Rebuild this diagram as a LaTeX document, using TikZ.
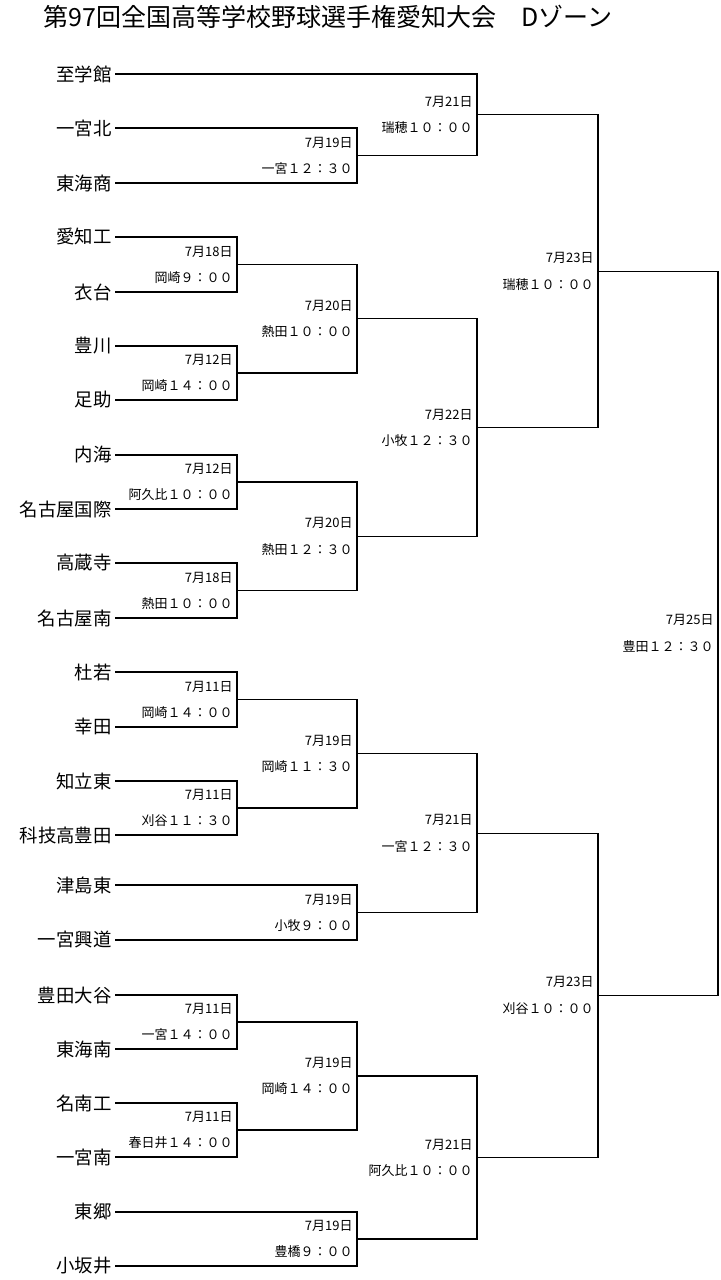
\documentclass[tikz,border=0pt]{standalone}
\usepackage{fontspec}
\setmainfont{Noto Sans CJK JP}
\usetikzlibrary{calc}
\tikzset{
  team/.style={anchor=east, inner sep=0pt, font=\fontsize{9.2}{9}\selectfont},
  info/.style={anchor=east, inner sep=0pt, font=\fontsize{6.5}{6}\selectfont},
  bracket/.style={line width=0.6pt}
}
% \match{name}{top}{bottom}{column x}{date}{time}
\newcommand{\match}[6]{%
  \draw[bracket] (#2) -- (#2 -| #4,0) -- (#3 -| #4,0) -- (#3);
  \coordinate (#1) at ($(#2 -| #4,0)!0.5!(#3 -| #4,0)$);
  \node[info] at ($(#1)+(-4,-13)$) {#5};
  \node[info] at ($(#1)+(-4,13)$) {#6};
}
\begin{document}
\begin{tikzpicture}[x=0.5pt,y=-0.5pt]
\useasboundingbox (0,0) rectangle (721,1280);
\node[font=\fontsize{12.5}{12}\selectfont] (title) at (328,17) {第97回全国高等学校野球選手権愛知大会　Dゾーン};

% teams
\foreach \n/\t/\y in {t1/至学館/74, t2/一宮北/128, t3/東海商/183, t4/愛知工/237,
  t5/衣台/292, t6/豊川/346, t7/足助/400, t8/内海/455, t9/名古屋国際/509,
  t10/高蔵寺/563, t11/名古屋南/618, t12/杜若/672, t13/幸田/727, t14/知立東/781,
  t15/科技高豊田/835, t16/津島東/885, t17/一宮興道/940, t18/豊田大谷/995,
  t19/東海南/1049, t20/名南工/1103, t21/一宮南/1157, t22/東郷/1212, t23/小坂井/1266}{
  \node[team] (\n) at (112,\y) {\t};
  \coordinate (\n e) at (115,\y);
}

% round 1
\match{a1}{t4e}{t5e}{237}{7月18日}{岡崎９：００}
\match{a2}{t6e}{t7e}{237}{7月12日}{岡崎１４：００}
\match{a3}{t8e}{t9e}{237}{7月12日}{阿久比１０：００}
\match{a4}{t10e}{t11e}{237}{7月18日}{熱田１０：００}
\match{a5}{t12e}{t13e}{237}{7月11日}{岡崎１４：００}
\match{a6}{t14e}{t15e}{237}{7月11日}{刈谷１１：３０}
\match{a7}{t18e}{t19e}{237}{7月11日}{一宮１４：００}
\match{a8}{t20e}{t21e}{237}{7月11日}{春日井１４：００}

% round 2
\match{b1}{t2e}{t3e}{357}{7月19日}{一宮１２：３０}
\match{b2}{a1}{a2}{357}{7月20日}{熱田１０：００}
\match{b3}{a3}{a4}{357}{7月20日}{熱田１２：３０}
\match{b4}{a5}{a6}{357}{7月19日}{岡崎１１：３０}
\match{b5}{t16e}{t17e}{357}{7月19日}{小牧９：００}
\match{b6}{a7}{a8}{357}{7月19日}{岡崎１４：００}
\match{b7}{t22e}{t23e}{357}{7月19日}{豊橋９：００}

% round 3
\match{c1}{t1e}{b1}{477}{7月21日}{瑞穂１０：００}
\match{c2}{b2}{b3}{477}{7月22日}{小牧１２：３０}
\match{c3}{b4}{b5}{477}{7月21日}{一宮１２：３０}
\match{c4}{b6}{b7}{477}{7月21日}{阿久比１０：００}

% semifinals and final
\match{d1}{c1}{c2}{598}{7月23日}{瑞穂１０：００}
\match{d2}{c3}{c4}{598}{7月23日}{刈谷１０：００}
\match{f}{d1}{d2}{718}{7月25日}{豊田１２：３０}
\end{tikzpicture}
\end{document}
